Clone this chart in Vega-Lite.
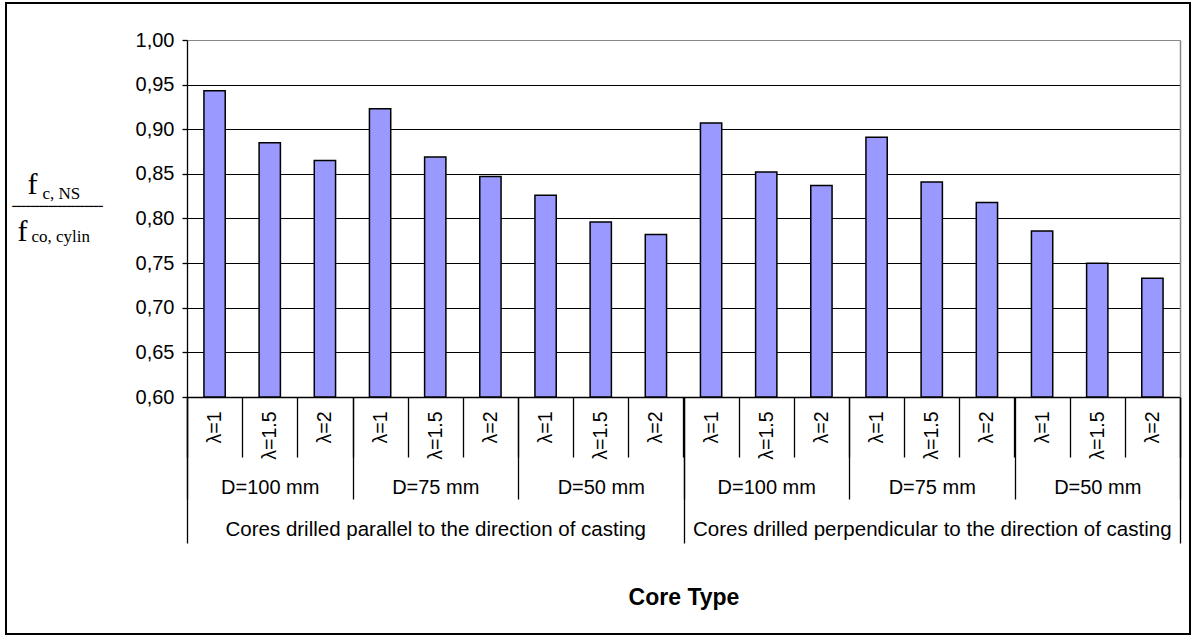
{
  "$schema": "https://vega.github.io/schema/vega-lite/v6.json",
  "width": 1184,
  "height": 631,
  "autosize": {"type": "none"},
  "padding": {"left": 6, "top": 3, "right": 2, "bottom": 2},
  "background": "white",
  "data": {"values": [
    {"key": "01|λ=1", "dgrp": "1|D=100 mm", "ogrp": "1|Cores drilled parallel to the direction of casting", "value": 0.943},
    {"key": "02|λ=1.5", "dgrp": "1|D=100 mm", "ogrp": "1|Cores drilled parallel to the direction of casting", "value": 0.885},
    {"key": "03|λ=2", "dgrp": "1|D=100 mm", "ogrp": "1|Cores drilled parallel to the direction of casting", "value": 0.865},
    {"key": "04|λ=1", "dgrp": "2|D=75 mm", "ogrp": "1|Cores drilled parallel to the direction of casting", "value": 0.923},
    {"key": "05|λ=1.5", "dgrp": "2|D=75 mm", "ogrp": "1|Cores drilled parallel to the direction of casting", "value": 0.869},
    {"key": "06|λ=2", "dgrp": "2|D=75 mm", "ogrp": "1|Cores drilled parallel to the direction of casting", "value": 0.847},
    {"key": "07|λ=1", "dgrp": "3|D=50 mm", "ogrp": "1|Cores drilled parallel to the direction of casting", "value": 0.826},
    {"key": "08|λ=1.5", "dgrp": "3|D=50 mm", "ogrp": "1|Cores drilled parallel to the direction of casting", "value": 0.796},
    {"key": "09|λ=2", "dgrp": "3|D=50 mm", "ogrp": "1|Cores drilled parallel to the direction of casting", "value": 0.782},
    {"key": "10|λ=1", "dgrp": "4|D=100 mm", "ogrp": "2|Cores drilled perpendicular to the direction of casting", "value": 0.907},
    {"key": "11|λ=1.5", "dgrp": "4|D=100 mm", "ogrp": "2|Cores drilled perpendicular to the direction of casting", "value": 0.852},
    {"key": "12|λ=2", "dgrp": "4|D=100 mm", "ogrp": "2|Cores drilled perpendicular to the direction of casting", "value": 0.837},
    {"key": "13|λ=1", "dgrp": "5|D=75 mm", "ogrp": "2|Cores drilled perpendicular to the direction of casting", "value": 0.891},
    {"key": "14|λ=1.5", "dgrp": "5|D=75 mm", "ogrp": "2|Cores drilled perpendicular to the direction of casting", "value": 0.841},
    {"key": "15|λ=2", "dgrp": "5|D=75 mm", "ogrp": "2|Cores drilled perpendicular to the direction of casting", "value": 0.818},
    {"key": "16|λ=1", "dgrp": "6|D=50 mm", "ogrp": "2|Cores drilled perpendicular to the direction of casting", "value": 0.786},
    {"key": "17|λ=1.5", "dgrp": "6|D=50 mm", "ogrp": "2|Cores drilled perpendicular to the direction of casting", "value": 0.750},
    {"key": "18|λ=2", "dgrp": "6|D=50 mm", "ogrp": "2|Cores drilled perpendicular to the direction of casting", "value": 0.733}
  ]},
  "layer": [
    {
      "mark": {"type": "bar", "fill": "#9999FF", "stroke": "black", "strokeWidth": 1.5},
      "encoding": {
        "x": {
          "field": "key", "type": "nominal", "sort": null,
          "scale": {"range": [181, 1174], "paddingInner": 0.614, "paddingOuter": 0.307},
          "axis": null
        },
        "y": {
          "field": "value", "type": "quantitative",
          "scale": {"domain": [0.6, 1.0], "zero": false, "nice": false, "range": [394, 37]},
          "axis": {
            "orient": "left", "offset": -181,
            "values": [0.6, 0.65, 0.7, 0.75, 0.8, 0.85, 0.9, 0.95, 1.0],
            "labelExpr": "replace(format(datum.value, '.2f'), '.', ',')",
            "labelFontSize": 20, "labelPadding": 8,
            "tickSize": 5, "tickWidth": 1.3, "tickColor": "black",
            "domainColor": "black", "domainWidth": 1.3,
            "grid": true, "gridWidth": 1.2,
            "gridColor": {"condition": {"test": "datum.value >= 0.999", "value": "#888888"}, "value": "black"},
            "title": "c, NS", "titleFont": "Liberation Serif", "titleFontSize": 17, "titleFontWeight": "normal",
            "titleAngle": 0, "titleAlign": "left", "titleBaseline": "alphabetic",
            "titleX": -145, "titleY": 195
          }
        },
        "y2": {"datum": 0.6}
      }
    },
    {
      "mark": {"type": "bar", "opacity": 0},
      "encoding": {
        "x": {
          "field": "key", "type": "nominal", "sort": null,
          "scale": {"range": [181, 1174], "paddingInner": 0, "paddingOuter": 0},
          "axis": {
            "orient": "bottom", "offset": -237,
            "labelExpr": "split(datum.value, '|')[1]",
            "labelAngle": 270, "labelAlign": "right", "labelBaseline": "middle",
            "labelFontSize": 19.5, "labelPadding": -46,
            "labelOverlap": false, "labelBound": false, "labelFlush": false, "labelLimit": 0,
            "tickBand": "extent", "tickSize": 60, "tickWidth": 1.3, "tickColor": "black",
            "domain": true, "domainColor": "black", "domainWidth": 1.3,
            "grid": false,
            "title": "f", "titleFont": "Liberation Serif", "titleFontSize": 30, "titleFontWeight": "normal",
            "titleAngle": 0, "titleAlign": "left", "titleBaseline": "alphabetic",
            "titleX": 21, "titleY": -204
          }
        },
        "y": {
          "field": "value", "type": "quantitative",
          "scale": {"domain": [0.6, 1.0], "zero": false, "nice": false, "range": [394, 37]},
          "axis": null
        }
      }
    },
    {
      "mark": {"type": "bar", "opacity": 0},
      "encoding": {
        "x": {
          "field": "dgrp", "type": "nominal", "sort": null,
          "scale": {"range": [181, 1174], "paddingInner": 0, "paddingOuter": 0},
          "axis": {
            "orient": "bottom", "offset": -237,
            "labelExpr": "split(datum.value, '|')[1]",
            "labelAngle": 0, "labelAlign": "center", "labelBaseline": "middle",
            "labelFontSize": 20, "labelPadding": -12,
            "labelOverlap": false, "labelBound": false, "labelFlush": false, "labelLimit": 0,
            "tickBand": "extent", "tickSize": 102, "tickWidth": 1.3, "tickColor": "black",
            "domain": false, "grid": false,
            "title": "f", "titleFont": "Liberation Serif", "titleFontSize": 30, "titleFontWeight": "normal",
            "titleAngle": 0, "titleAlign": "left", "titleBaseline": "alphabetic",
            "titleX": 11, "titleY": -157
          }
        },
        "y": {
          "field": "value", "type": "quantitative",
          "scale": {"domain": [0.6, 1.0], "zero": false, "nice": false, "range": [394, 37]},
          "axis": {
            "orient": "right", "offset": -10,
            "labels": false, "ticks": false, "grid": false,
            "domain": true, "domainColor": "#888888", "domainWidth": 1.5,
            "title": "co, cylin", "titleFont": "Liberation Serif", "titleFontSize": 17, "titleFontWeight": "normal",
            "titleAngle": 0, "titleAlign": "left", "titleBaseline": "alphabetic",
            "titleX": -1149, "titleY": 238
          }
        }
      }
    },
    {
      "mark": {"type": "bar", "opacity": 0},
      "encoding": {
        "x": {
          "field": "ogrp", "type": "nominal", "sort": null,
          "scale": {"range": [181, 1174], "paddingInner": 0, "paddingOuter": 0},
          "axis": {
            "orient": "bottom", "offset": -237,
            "labelExpr": "split(datum.value, '|')[1]",
            "labelAngle": 0, "labelAlign": "center", "labelBaseline": "middle",
            "labelFontSize": 20.5, "labelPadding": -14,
            "labelOverlap": false, "labelBound": false, "labelFlush": false, "labelLimit": 0,
            "tickBand": "extent", "tickSize": 146, "tickWidth": 1.3, "tickColor": "black",
            "domain": false, "grid": false,
            "title": "Core Type", "titleFont": "Liberation Sans", "titleFontSize": 23, "titleFontWeight": "bold",
            "titleAngle": 0, "titleAlign": "center", "titleBaseline": "alphabetic",
            "titleX": 677.5, "titleY": 207
          }
        },
        "y": {
          "field": "value", "type": "quantitative",
          "scale": {"domain": [0.6, 1.0], "zero": false, "nice": false, "range": [394, 37]},
          "axis": {
            "orient": "left", "offset": 0,
            "labels": false, "ticks": false, "grid": false, "domain": false,
            "title": "━━━━━━━━━━━━━━━━━━━━", "titleFont": "DejaVu Sans Mono", "titleFontSize": 7.5, "titleFontWeight": "normal",
            "titleAngle": 0, "titleAlign": "center", "titleBaseline": "alphabetic",
            "titleX": 51, "titleY": 205.5
          }
        }
      }
    }
  ],
  "resolve": {
    "scale": {"x": "independent", "y": "independent"},
    "axis": {"x": "independent", "y": "independent"}
  },
  "config": {
    "view": {"stroke": "black", "strokeWidth": 2, "fill": "white"},
    "axis": {"labelFont": "Liberation Sans", "labelColor": "black", "titleColor": "black"}
  }
}
